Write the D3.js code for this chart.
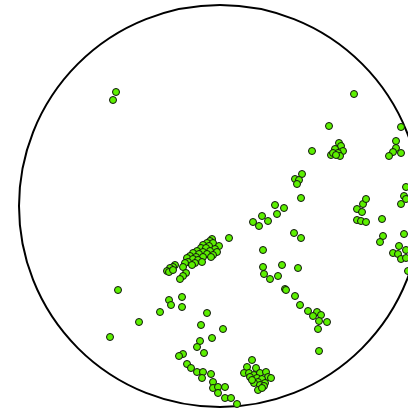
<!DOCTYPE html>
<html>
<head>
<meta charset="utf-8">
<script src="https://cdn.jsdelivr.net/npm/d3@7"></script>
<style>
  body { margin: 0; background: #fff; }
  svg { display: block; }
</style>
</head>
<body>
<div id="chart"></div>
<script>
// unit circle radius (plot units), points given as [x, y] relative to centre
const radius = 201;

const topPoints = [[-104,114],[-107,106],[134,112],[109,80],[181,79]];

const clusterNE = [[119,63],[121,60],[115,57],[123,55],[118,53],[111,51],[120,50],[113,53],[116,51]];

const clusterEdge = [[176,65],[176,58],[173,54],[169,50],[181,53]];

const midPoints = [[92,55],[82,32],[75,27],[79,26],[77,22],[81,8],[55,1],[64,-2],[57,-8],[42,-10],
  [48,-15],[33,-16],[39,-20],[9,-32],[74,-27],[81,-32],[43,-44],[43,-61],[44,-68],[50,-73],
  [62,-59],[58,-70],[78,-62],[65,-83]];

const rightPoints = [[137,-3],[143,2],[146,7],[142,-6],[137,-14],[141,-15],[146,-16],[162,-13],
  [163,-30],[160,-36],[186,19],[184,10],[181,2],[186,7],[184,-28],[179,-40],[173,-47],[178,-48],
  [181,-53],[186,-44],[186,-52],[188,-65]];

const mainCluster = [[-8,-33],[-10,-35],[-13,-37],[-7,-37],[-17,-39],[-11,-40],[-1,-40],[-19,-42],
  [-14,-42],[-5,-43],[-23,-45],[-17,-46],[-10,-45],[-3,-46],[-27,-47],[-21,-48],[-13,-48],[-7,-49],
  [-30,-50],[-24,-51],[-17,-51],[-9,-51],[-33,-52],[-27,-53],[-22,-54],[-32,-56],[-25,-57],[-18,-56],
  [-35,-57],[-28,-59],[-37,-61],[-45,-59],[-47,-61],[-50,-62],[-53,-65],[-51,-66],[-47,-64],
  [-34,-67],[-37,-70],[-40,-73]];

const lowerLeft = [[-102,-84],[-51,-94],[-49,-99],[-38,-91],[-38,-101],[-60,-106],[-81,-116],
  [-110,-131],[-19,-119],[-13,-107],[3,-123],[-8,-132]];

const lowerArc = [[-20,-135],[-23,-141],[-16,-147],[-37,-148],[-41,-150],[-33,-158],[-29,-162],
  [-23,-166],[-17,-166],[-9,-168],[-18,-172],[-7,-176],[-7,-182],[-2,-181],[5,-181],[-2,-187],
  [5,-192],[11,-192],[17,-198]];

const lowerRight = [[66,-84],[75,-90],[80,-99],[88,-105],[97,-106],[101,-109],[93,-110],[99,-115],
  [107,-116],[98,-123],[99,-145]];

const bottomCluster = [[32,-154],[27,-161],[24,-167],[29,-167],[36,-162],[34,-169],[40,-167],
  [46,-166],[48,-171],[30,-171],[37,-172],[42,-173],[38,-176],[45,-177],[34,-177],[40,-179],
  [44,-180],[38,-184],[42,-182],[32,-174],[51,-172]];

const allPoints = [].concat(topPoints, clusterNE, clusterEdge, midPoints, rightPoints,
  mainCluster, lowerLeft, lowerArc, lowerRight, bottomCluster);

const width = 408, height = 413;

const svg = d3.select("#chart").append("svg")
  .attr("width", width)
  .attr("height", height);

// scales: centre of the circle sits at (220, 206)
const x = d3.scaleLinear().domain([-220, 188]).range([0, width]);
const y = d3.scaleLinear().domain([206, -207]).range([0, height]);

// outer circle
svg.append("circle")
  .attr("cx", x(0))
  .attr("cy", y(0))
  .attr("r", x(radius) - x(0))
  .attr("fill", "none")
  .attr("stroke", "#000")
  .attr("stroke-width", 2);

svg.append("g")
  .selectAll("circle")
  .data(allPoints)
  .join("circle")
  .attr("cx", d => x(d[0]))
  .attr("cy", d => y(d[1]))
  .attr("r", 3.5)
  .attr("fill", "#5cf000")
  .attr("stroke", "#111")
  .attr("stroke-width", 1);
</script>
</body>
</html>
